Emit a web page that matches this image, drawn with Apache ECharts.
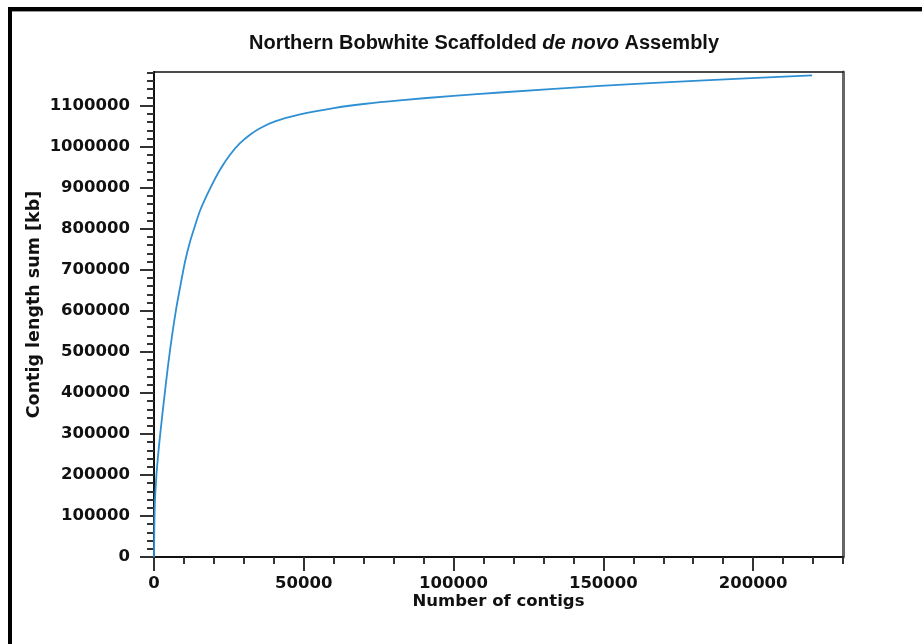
<!DOCTYPE html>
<html>
<head>
<meta charset="utf-8">
<script src="https://cdn.jsdelivr.net/npm/echarts@6/dist/echarts.min.js"></script>
<style>html,body{margin:0;padding:0;background:#fff}#c{width:922px;height:644px}</style>
</head>
<body>
<div id="c"></div>
<script>
// Data: cumulative contig length (kb) vs number of contigs
const contigCounts = [0, 100, 267, 501, 835, 1235, 1670, 2337, 3339, 4675, 6010, 7346, 8681, 10351, 12020, 13690, 15359, 18698, 22037, 25376, 28715, 32054, 35393, 40402, 48749, 60000, 70000, 82000, 100000, 115500, 149000, 182000, 219700];
const lengthSums   = [0, 65850, 126800, 163400, 202400, 236600, 270700, 317100, 382900, 465800, 539000, 602400, 656100, 719500, 768300, 807300, 843900, 897600, 943900, 980500, 1008500, 1029300, 1045100, 1061500, 1078500, 1094000, 1104000, 1113000, 1124000, 1132000, 1148000, 1161000, 1174000];
const xMajorTicks = [0, 50000, 100000, 150000, 200000];
const yMajorTicks = [0, 100000, 200000, 300000, 400000, 500000, 600000, 700000, 800000, 900000, 1000000, 1100000];
const xMinorTicks = []; for (let v = 0; v <= 230000; v += 10000) xMinorTicks.push(v);
const yMinorTicks = []; for (let v = 0; v <= 1180000; v += 20000) yMinorTicks.push(v);

const X_MAX = 230000, Y_MAX = 1182000;
const font = 'DejaVu Sans';
const labelStyle = {fontFamily: font, fontWeight: 'bold', fontSize: 16.5, color: '#111', formatter: v => String(v)};

const chart = echarts.init(document.getElementById('c'), null, {renderer: 'canvas'});
chart.setOption({
  animation: false,
  backgroundColor: '#fff',
  title: {
    left: 479, top: 28, textAlign: 'center',
    text: '{a|Northern Bobwhite Scaffolded }{b|de novo}{a| Assembly}',
    textStyle: {
      rich: {
        a: {fontFamily: 'Liberation Sans', fontWeight: 'bold', fontSize: 20, color: '#111'},
        b: {fontFamily: 'Liberation Sans', fontWeight: 'bold', fontStyle: 'italic', fontSize: 20, color: '#111'}
      }
    }
  },
  graphic: [
    {type: 'rect', shape: {x: 8, y: 7, width: 914, height: 4}, style: {fill: '#000'}},
    {type: 'rect', shape: {x: 12, y: 11, width: 910, height: 1}, style: {fill: '#999'}},
    {type: 'rect', shape: {x: 8, y: 7, width: 4, height: 637}, style: {fill: '#000'}}
  ],
  grid: {left: 154, top: 72, right: 79, bottom: 87},
  xAxis: [
    {
      type: 'value', position: 'bottom', min: 0, max: X_MAX, interval: 50000,
      name: 'Number of contigs', nameLocation: 'middle', nameGap: 36, nameMoveOverlap: false,
      nameTextStyle: {fontFamily: font, fontWeight: 'bold', fontSize: 16.5, color: '#111'},
      axisLine: {show: true, onZero: false, lineStyle: {color: '#111', width: 2}},
      axisTick: {show: true, inside: false, length: 14, customValues: xMajorTicks, lineStyle: {color: '#333', width: 2}},
      axisLabel: {show: true, customValues: xMajorTicks, margin: 18, ...labelStyle},
      splitLine: {show: false}
    },
    {
      type: 'value', position: 'bottom', min: 0, max: X_MAX,
      axisLine: {show: false},
      axisTick: {show: true, inside: false, length: 7, customValues: xMinorTicks, lineStyle: {color: '#333', width: 2}},
      axisLabel: {show: false}, splitLine: {show: false}
    },
    {
      type: 'value', position: 'top', min: 0, max: X_MAX,
      axisLine: {show: true, onZero: false, lineStyle: {color: '#111', width: 1.5}},
      axisTick: {show: false}, axisLabel: {show: false}, splitLine: {show: false}
    }
  ],
  yAxis: [
    {
      type: 'value', position: 'left', min: 0, max: Y_MAX, interval: 100000,
      name: 'Contig length sum [kb]', nameLocation: 'middle', nameGap: 111, nameMoveOverlap: false,
      nameTextStyle: {fontFamily: font, fontWeight: 'bold', fontSize: 17.5, color: '#111', padding: [0, 0, 0, 20]},
      axisLine: {show: true, onZero: false, lineStyle: {color: '#111', width: 2}},
      axisTick: {show: true, inside: false, length: 14, customValues: yMajorTicks, lineStyle: {color: '#333', width: 2}},
      axisLabel: {show: true, customValues: yMajorTicks, margin: 24, ...labelStyle},
      splitLine: {show: false}
    },
    {
      type: 'value', position: 'left', min: 0, max: Y_MAX,
      axisLine: {show: false},
      axisTick: {show: true, inside: false, length: 7, customValues: yMinorTicks, lineStyle: {color: '#333', width: 2}},
      axisLabel: {show: false}, splitLine: {show: false}
    },
    {
      type: 'value', position: 'right', min: 0, max: Y_MAX,
      axisLine: {show: true, onZero: false, lineStyle: {color: '#666', width: 3}},
      axisTick: {show: false}, axisLabel: {show: false}, splitLine: {show: false}
    }
  ],
  series: [{
    type: 'line',
    xAxisIndex: 0, yAxisIndex: 0,
    data: contigCounts.map((c, i) => [c, lengthSums[i]]),
    smooth: 0.25,
    showSymbol: false, symbol: 'none',
    lineStyle: {color: '#2f8fd3', width: 1.8}
  }]
});
</script>
</body>
</html>
